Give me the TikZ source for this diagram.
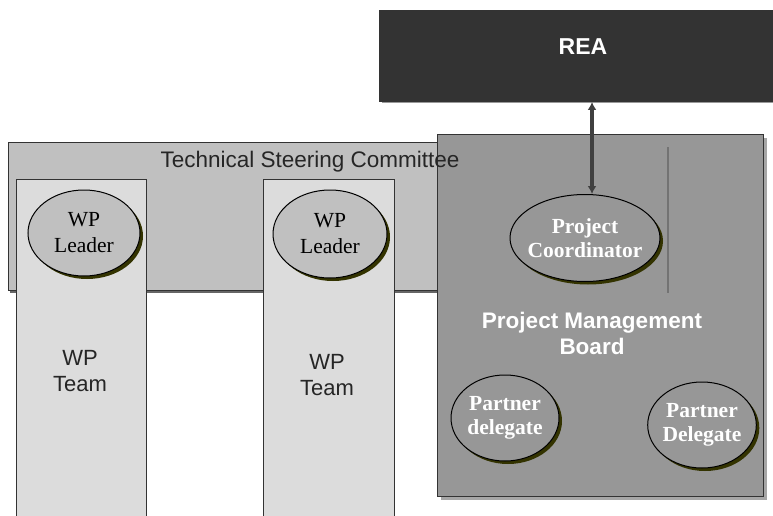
\documentclass[tikz,border=0pt]{standalone}
\usepackage{fontspec}
\setmainfont{Liberation Serif}
\setsansfont{Liberation Sans}
\usetikzlibrary{shapes.geometric,shadows,arrows.meta}
\definecolor{reagray}{HTML}{333333}
\definecolor{pmbgray}{HTML}{979797}
\definecolor{tscgray}{HTML}{C0C0C0}
\definecolor{teamgray}{HTML}{DCDCDC}
\definecolor{shadowolive}{HTML}{333300}
\tikzset{
  box/.style={draw=black!80, line width=1pt, inner sep=0pt, anchor=north west},
  member/.style={ellipse, draw=black, line width=1pt, inner sep=0pt, align=center,
    font=\fontsize{21.5}{26}\selectfont,
    drop shadow={shadow xshift=3pt, shadow yshift=-3pt, fill=shadowolive, opacity=1}},
  sanslabel/.style={align=center, font=\sffamily\fontsize{22}{26}\selectfont},
  linkarrow/.style={draw=black!75, line width=3.5pt, {Latex[length=8pt,width=9pt]}-{Latex[length=8pt,width=9pt]}}
}
\begin{document}
\begin{tikzpicture}[x=1pt,y=-1pt]
\useasboundingbox (0,0) rectangle (773,516);
% technical steering committee and work packages
\node[box, fill=tscgray, minimum width=452pt, minimum height=148pt,
  drop shadow={shadow xshift=1.5pt, shadow yshift=-2pt, fill=black!60, opacity=1}] (tsc) at (8,142) {};
\node[box, fill=teamgray, minimum width=130pt, minimum height=340pt] (col1) at (16,179) {};
\node[box, fill=teamgray, minimum width=131pt, minimum height=340pt] (col2) at (263,179) {};
\node[member, fill=tscgray, minimum width=112pt, minimum height=86pt] (lead1) at (84,233) {WP\\Leader};
\node[member, fill=tscgray, minimum width=114pt, minimum height=88pt] (lead2) at (330,234) {WP\\Leader};
\node[sanslabel, text=black!85] (team1) at (80,371) {WP\\Team};
\node[sanslabel, text=black!85] (team2) at (327,375) {WP\\Team};
% project management board
\node[box, fill=pmbgray, minimum width=326pt, minimum height=362pt,
  drop shadow={shadow xshift=3pt, shadow yshift=-3pt, fill=black!35, opacity=1}] (pmb) at (437,134) {};
\node[sanslabel, text=black!85, font=\sffamily\fontsize{22.5}{26}\selectfont] (tsclabel) at (310,162) {Technical Steering Committee};
\draw[black!55, line width=1.2pt] (668,147) -- (668,293);
\node[member, fill=pmbgray, text=white, font=\bfseries\fontsize{21.5}{24}\selectfont,
  inner sep=-5pt, minimum width=150pt, minimum height=87pt] (pc) at (585,238) {Project\\Coordinator};
\node[sanslabel, text=white, font=\sffamily\bfseries\fontsize{22.5}{26}\selectfont] (pmblabel) at (592,333) {Project Management\\Board};
\node[member, fill=pmbgray, text=white, font=\bfseries\fontsize{21.5}{24}\selectfont,
  inner sep=-1pt, minimum width=108pt, minimum height=86pt] (pd1) at (505,418) {Partner\\delegate};
\node[member, fill=pmbgray, text=white, font=\bfseries\fontsize{21.5}{24}\selectfont,
  inner sep=-1pt, minimum width=106pt, minimum height=86pt] (pd2) at (702,425) {Partner\\Delegate};
% REA
\node[box, fill=reagray, minimum width=396pt, minimum height=91pt,
  drop shadow={shadow xshift=2pt, shadow yshift=-2pt, fill=black!40, opacity=1}] (rea) at (379,10) {};
\node[text=white, font=\sffamily\bfseries\fontsize{23}{26}\selectfont] (realabel) at (583,47) {REA};
\draw[linkarrow] ([xshift=7pt]pc.north) -- ([xshift=7pt]pc.north |- rea.south);
\end{tikzpicture}
\end{document}
